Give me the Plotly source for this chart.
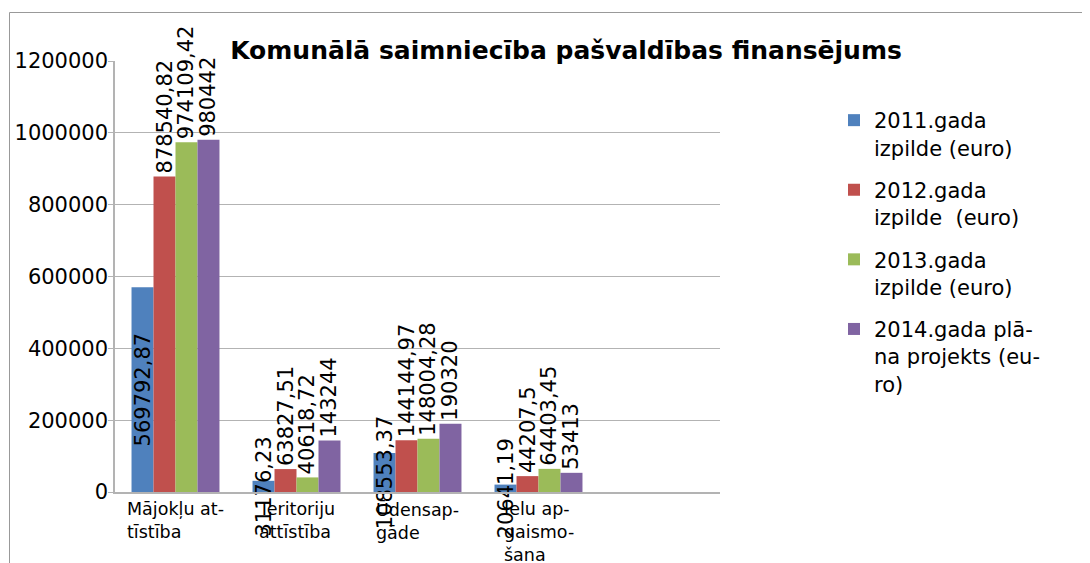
import plotly.graph_objects as go

# categories (last slot is empty in the original chart)
categories = ["Mājokļu at-<br>tīstība", "Teritoriju<br>attīstība", "Ūdensap-<br>gāde",
              "Ielu ap-<br>gaismo-<br>šana", ""]
cat_keys = ["c0", "c1", "c2", "c3", "c4"]

series_names = ["2011.gada<br>izpilde (euro)", "2012.gada<br>izpilde  (euro)",
                "2013.gada<br>izpilde (euro)", "2014.gada plā-<br>na projekts (eu-<br>ro)"]
v2011 = [569792.87, 31176.23, 108553.37, 20641.19]
v2012 = [878540.82, 63827.51, 144144.97, 44207.5]
v2013 = [974109.42, 40618.72, 148004.28, 64403.45]
v2014 = [980442, 143244, 190320, 53413]
colors = ["#4f81bd", "#c0504d", "#9bbb59", "#8064a2"]

FONT = "DejaVu Sans"

# page body has an 8px margin, so the figure is laid out 8px smaller
W, H = 1082, 555
L, R, T, B = 107, 712, 53, 484  # plot area in figure pixels
PW, PH = R - L, B - T


def lv(v):
    # latvian decimal comma
    s = ("%.2f" % v).rstrip("0").rstrip(".")
    return s.replace(".", ",")


fig = go.Figure()
for i, (name, vals) in enumerate(zip(series_names, [v2011, v2012, v2013, v2014])):
    pos = "inside" if i == 0 else "outside"
    fig.add_trace(go.Bar(
        x=cat_keys[:4], y=vals, name=name, legendgroup=str(i),
        marker=dict(color=colors[i], line=dict(width=0)),
        text=[lv(v) for v in vals], textposition=pos, textangle=-90,
        insidetextanchor="middle", constraintext="none", cliponaxis=False,
        textfont=dict(family=FONT, size=21, color="black"),
        insidetextfont=dict(family=FONT, size=21, color="black"),
        outsidetextfont=dict(family=FONT, size=21, color="black"),
    ))

# category labels, left aligned like the original
for key, lab in zip(cat_keys, categories):
    if lab:
        fig.add_annotation(x=key, y=0, xref="x", yref="paper", text=lab,
                           showarrow=False, align="left", xanchor="center",
                           yanchor="top", yshift=-5,
                           font=dict(family=FONT, size=17.5, color="black"))

# outer frame of the chart object
fig.add_shape(type="rect", xref="paper", yref="paper",
              x0=(1.5 - L) / PW, x1=2, y0=-1, y1=(B - 4.5) / PH,
              line=dict(color="#999999", width=1), layer="below")

fig.update_layout(
    width=W, height=H,
    margin=dict(l=L, r=W - R, t=T, b=H - B, autoexpand=False),
    paper_bgcolor="white", plot_bgcolor="white",
    font=dict(family=FONT, color="black"),
    title=dict(text="<b>Komunālā saimniecība pašvaldības finansējums</b>",
               x=558 / W, xanchor="center", y=1 - 42 / H, yanchor="middle",
               font=dict(family=FONT, size=25, color="black")),
    barmode="group", bargap=0.273, bargroupgap=0,
    showlegend=True,
    legend=dict(x=(826 - L) / PW, y=(B - 92) / PH, xanchor="left", yanchor="top",
                font=dict(family=FONT, size=21, color="black"),
                traceorder="grouped", tracegroupgap=12, valign="top",
                bgcolor="rgba(0,0,0,0)"),
    xaxis=dict(categoryorder="array", categoryarray=cat_keys, range=[-0.5, 4.5],
               showticklabels=False, showline=True, linecolor="#b3b3b3",
               linewidth=1.5, showgrid=False, zeroline=False, ticks=""),
    yaxis=dict(range=[0, 1200000], dtick=200000, tickformat="d",
               showgrid=True, gridcolor="#b3b3b3", gridwidth=1,
               showline=True, linecolor="#b3b3b3", linewidth=1.5,
               ticks="outside", ticklen=5, tickcolor="#b3b3b3",
               ticklabelstandoff=-4,
               zeroline=False, automargin=False,
               tickfont=dict(family=FONT, size=21, color="black")),
)

fig.write_html("out.html")
